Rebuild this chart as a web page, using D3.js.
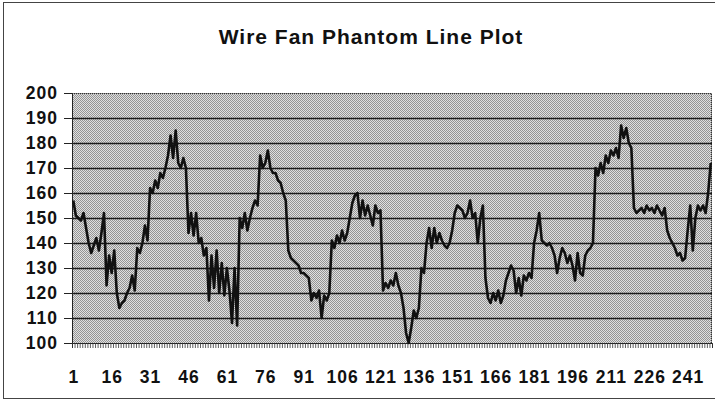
<!DOCTYPE html>
<html>
<head>
<meta charset="utf-8">
<script src="https://cdn.jsdelivr.net/npm/d3@7"></script>
<style>
  body { margin: 0; background: #fff; }
  text { font-family: "Liberation Sans", Arial, sans-serif; font-weight: bold; fill: #111; }
</style>
</head>
<body>
<script>
// chart data
const title = "Wire Fan Phantom Line Plot";

const values = [
  157, 151, 150, 149, 152, 146, 140, 136, 139, 142,
  137, 144, 152, 123, 135, 128, 137, 120, 114, 116,
  117, 120, 122, 127, 121, 138, 136, 140, 147, 141,
  162, 160, 165, 162, 168, 166, 170, 175, 183, 174,
  185, 172, 170, 174, 170, 144, 152, 143, 152, 140,
  142, 135, 138, 117, 135, 122, 137, 120, 132, 119,
  130, 121, 108, 130, 107, 150, 146, 152, 145, 150,
  154, 157, 155, 175, 170, 172, 177, 170, 168, 168,
  165, 164, 160, 157, 137, 134, 133, 132, 131, 128,
  128, 127, 126, 117, 120, 118, 121, 110, 119, 117,
  120, 141, 138, 143, 140, 145, 141, 144, 150, 156,
  159, 160, 150, 157, 151, 155, 151, 147, 155, 152,
  153, 121, 124, 122, 125, 123, 128, 123, 120, 114,
  104, 100, 106, 113, 110, 114, 130, 128, 140, 146,
  138, 146, 140, 144, 141, 139, 138, 140, 145, 152,
  155, 154, 153, 150, 152, 157, 150, 152, 140, 150,
  155, 126, 118, 116, 120, 117, 121, 116, 119, 125,
  128, 131, 129, 120, 126, 119, 127, 125, 128, 126,
  140, 145, 152, 141, 140, 139, 140, 138, 135, 128,
  134, 138, 136, 132, 135, 131, 125, 136, 128, 127,
  135, 137, 138, 140, 170, 167, 172, 168, 175, 172,
  177, 175, 178, 174, 187, 182, 186, 180, 178, 154,
  152, 153, 154, 152, 155, 153, 154, 152, 155, 153,
  151, 154, 145, 142, 140, 138, 135, 136, 133, 134,
  145, 155, 137, 150, 155, 153, 155, 152, 160, 172
];

// sample numbers 1..250 along the bottom
const categories = values.map((v, i) => i + 1);
const xTickLabels = [1, 16, 31, 46, 61, 76, 91, 106, 121, 136, 151, 166, 181, 196, 211, 226, 241];
const yTicks = [100, 110, 120, 130, 140, 150, 160, 170, 180, 190, 200];

const width = 715;
const height = 404;

// plot box
const plotL = 72, plotR = 712, plotT = 93, plotB = 343;

let svg = d3.select("body").append("svg")
  .attr("width", width)
  .attr("height", height);

// dithered grey fill like the scan
let defs = svg.append("defs");
let pat = defs.append("pattern")
  .attr("id", "dots")
  .attr("patternUnits", "userSpaceOnUse")
  .attr("width", 2)
  .attr("height", 2);
pat.append("rect").attr("width", 2).attr("height", 2).attr("fill", "#e0e0e0");
pat.append("rect").attr("x", 0).attr("y", 0).attr("width", 1).attr("height", 1).attr("fill", "#949494");
pat.append("rect").attr("x", 1).attr("y", 1).attr("width", 1).attr("height", 1).attr("fill", "#949494");

// outer frame
svg.append("rect")
  .attr("x", 3.5)
  .attr("y", 2.5)
  .attr("width", width + 10)
  .attr("height", 396)
  .attr("fill", "none")
  .attr("stroke", "#444")
  .attr("stroke-width", 1);

// title
svg.append("text")
  .attr("x", 371)
  .attr("y", 44)
  .attr("text-anchor", "middle")
  .attr("font-size", 21)
  .attr("letter-spacing", 1)
  .text(title);

let x = d3.scaleBand()
  .domain(categories)
  .range([plotL, plotR])
  .padding(0);

let xEdge = d3.scaleLinear()
  .domain([0, categories.length])
  .range([plotL, plotR]);

let y = d3.scaleLinear()
  .domain([100, 200])
  .range([plotB, plotT]);

// plot background
svg.append("rect")
  .attr("x", plotL)
  .attr("y", plotT)
  .attr("width", plotR - plotL)
  .attr("height", plotB - plotT)
  .attr("fill", "url(#dots)");

// top and right edge, dotted
svg.append("path")
  .attr("d", `M${plotL},${plotT + 0.5}H${plotR - 0.5}V${plotB}`)
  .attr("fill", "none")
  .attr("stroke", "#333")
  .attr("stroke-dasharray", "1,1");

// horizontal grid lines
svg.append("g")
  .selectAll("line")
  .data(yTicks.filter(d => d > 100 && d < 200))
  .join("line")
  .attr("x1", plotL)
  .attr("x2", plotR)
  .attr("y1", d => Math.round(y(d)) + 0.5)
  .attr("y2", d => Math.round(y(d)) + 0.5)
  .attr("stroke", "#1a1a1a")
  .attr("stroke-width", 1.3);

// y axis
let yAxis = svg.append("g")
  .attr("transform", `translate(${plotL},0)`)
  .call(d3.axisLeft(y).tickValues(yTicks).tickSize(8).tickPadding(6));
yAxis.selectAll("text")
  .attr("font-size", 17.5)
  .attr("letter-spacing", 1)
  .attr("fill", "#111");
yAxis.selectAll("line, path").attr("stroke", "#222");

// dense category ticks along the bottom
let minor = svg.append("g")
  .attr("transform", `translate(0,${plotB})`)
  .call(d3.axisBottom(xEdge).tickValues(d3.range(0, categories.length + 1)).tickFormat("").tickSize(5));
minor.selectAll("line").attr("stroke", "#333").attr("stroke-width", 0.8);
minor.select("path").attr("stroke", "#222");

// labelled x ticks
let xAxis = svg.append("g")
  .attr("transform", `translate(0,${plotB})`)
  .call(d3.axisBottom(x).tickValues(xTickLabels).tickSize(0).tickPadding(28));
xAxis.select("path").remove();
xAxis.selectAll("text")
  .attr("font-size", 17.5)
  .attr("letter-spacing", 1)
  .attr("dx", 0.5)
  .attr("fill", "#111");

// the series
let line = d3.line()
  .x((d, i) => x(categories[i]) + x.bandwidth() / 2)
  .y(d => y(d));

svg.append("path")
  .datum(values)
  .attr("d", line)
  .attr("fill", "none")
  .attr("stroke", "#111")
  .attr("stroke-width", 2.6)
  .attr("stroke-linejoin", "round");
</script>
</body>
</html>
